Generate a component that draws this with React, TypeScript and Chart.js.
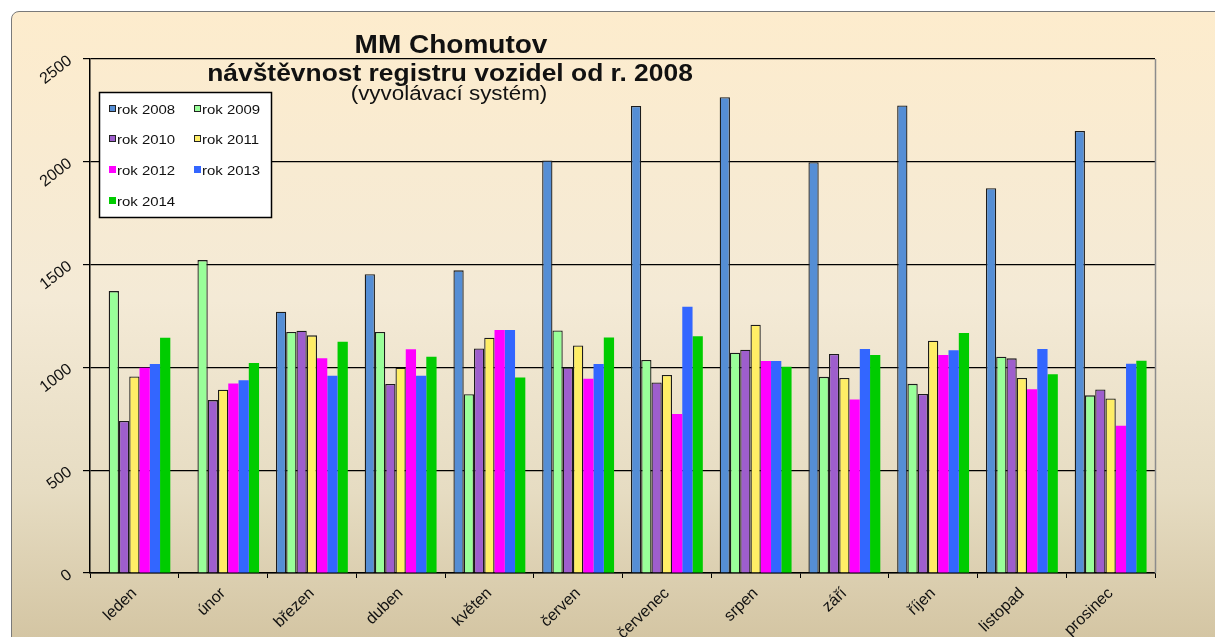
import React, { useEffect, useRef } from "react";
import { Chart, registerables } from "chart.js";

Chart.register(...registerables);

const months = ["leden", "únor", "březen", "duben", "květen", "červen", "červenec", "srpen", "září", "říjen", "listopad", "prosinec"];
const seriesNames = ["rok 2008", "rok 2009", "rok 2010", "rok 2011", "rok 2012", "rok 2013", "rok 2014"];
const rok2008 = [null, null, 1271, 1453, 1472, 2006, 2272, 2314, 1998, 2274, 1871, 2150];
const rok2009 = [1371, 1522, 1172, 1172, 870, 1180, 1036, 1071, 954, 920, 1052, 864];
const rok2010 = [739, 841, 1178, 919, 1092, 1000, 927, 1086, 1065, 871, 1044, 893];
const rok2011 = [956, 891, 1156, 998, 1144, 1107, 963, 1208, 949, 1130, 949, 849];
const rok2012 = [998, 922, 1045, 1088, 1182, 945, 773, 1031, 844, 1060, 894, 716];
const rok2013 = [1016, 937, 959, 959, 1182, 1016, 1295, 1031, 1089, 1083, 1089, 1018];
const rok2014 = [1144, 1022, 1125, 1052, 951, 1146, 1152, 1003, 1060, 1167, 967, 1032];
const seriesValues = [rok2008, rok2009, rok2010, rok2011, rok2012, rok2013, rok2014];
const yMin = 0;
const yMax = 2500;
const yStep = 500;
const titleLine1 = "MM Chomutov";
const titleLine2 = "návštěvnost registru vozidel od r. 2008";
const subtitle = "(vyvolávací systém)";

const fillColors = ["#558ed5", "#99ff99", "#9e5ecd", "#ffee66", "#ff00ff", "#3366ff", "#00cc00"];
const borderColors = ["#1c1c1c", "#1c1c1c", "#1c1c1c", "#1c1c1c", "#ff00ff", "#3366ff", "#00cc00"];
const borderWidths = [1.3, 1.3, 1.3, 1.3, 0, 0, 0];

const FONT = '"Liberation Sans", Arial, sans-serif';

function drawStretched(ctx: CanvasRenderingContext2D, text: string, x: number, y: number, font: string, align: CanvasTextAlign, sx: number) {
  ctx.save();
  ctx.font = font;
  ctx.textAlign = align;
  ctx.textBaseline = "alphabetic";
  ctx.fillStyle = "#111";
  ctx.translate(x, y);
  ctx.scale(sx, 1);
  ctx.fillText(text, 0, 0);
  ctx.restore();
}

const decorPlugin = {
  id: "decor",
  afterDraw(chart: any) {
    const ctx: CanvasRenderingContext2D = chart.ctx;
    const a = chart.chartArea;
    // right border of plot area
    ctx.save();
    ctx.strokeStyle = "#8c8c8c";
    ctx.lineWidth = 1.5;
    ctx.beginPath();
    ctx.moveTo(a.right + 0.5, a.top);
    ctx.lineTo(a.right + 0.5, a.bottom);
    ctx.stroke();
    ctx.restore();

    // titles
    drawStretched(ctx, titleLine1, 451, 53, `bold 25px ${FONT}`, "center", 1.12);
    drawStretched(ctx, titleLine2, 450, 81, `bold 24px ${FONT}`, "center", 1.1);
    drawStretched(ctx, subtitle, 449, 100, `20px ${FONT}`, "center", 1.12);

    // legend
    const lx = 99, ly = 92, lw = 172, lh = 125;
    ctx.save();
    ctx.fillStyle = "#ffffff";
    ctx.fillRect(lx, ly, lw, lh);
    ctx.strokeStyle = "#000";
    ctx.lineWidth = 1.5;
    ctx.strokeRect(lx + 0.5, ly + 0.5, lw, lh);
    ctx.restore();
    const rowsY = [109, 139, 170, 201];
    const colSw = [109, 194];
    chart.data.datasets.forEach((ds: any, i: number) => {
      const row = Math.floor(i / 2);
      const col = i % 2;
      const cy = rowsY[row];
      const sx = colSw[col];
      ctx.save();
      ctx.fillStyle = fillColors[i];
      ctx.fillRect(sx, cy - 4, 7, 7);
      if (borderWidths[i] > 0) {
        ctx.strokeStyle = "#222";
        ctx.lineWidth = 1;
        ctx.strokeRect(sx + 0.5, cy - 3.5, 6, 6);
      }
      ctx.restore();
      drawStretched(ctx, ds.label, sx + 8, cy + 4.5, `13px ${FONT}`, "left", 1.15);
    });
  },
};

export default function App() {
  const canvasRef = useRef<HTMLCanvasElement | null>(null);

  useEffect(() => {
    document.body.style.margin = "0";
    const canvas = canvasRef.current;
    if (!canvas) return;
    const chart = new Chart(canvas, {
      type: "bar",
      data: {
        labels: months,
        datasets: seriesValues.map((vals, i) => ({
          label: seriesNames[i],
          data: vals,
          backgroundColor: fillColors[i],
          borderColor: borderColors[i],
          borderWidth: borderWidths[i],
          borderSkipped: "bottom",
          categoryPercentage: 0.81,
          barPercentage: 1.0,
        })),
      },
      options: {
        animation: false,
        responsive: false,
        devicePixelRatio: 1,
        layout: { padding: { top: 59, right: 60, left: 0, bottom: 0 } },
        plugins: {
          legend: { display: false },
          title: { display: false },
          tooltip: { enabled: false },
        },
        scales: {
          x: {
            grid: {
              display: true,
              drawOnChartArea: false,
              drawTicks: true,
              tickLength: 5,
              color: "#000",
              offset: true,
            },
            border: { display: true, color: "#000", width: 1.5 },
            ticks: {
              minRotation: 44,
              maxRotation: 44,
              autoSkip: false,
              color: "#111",
              padding: 6,
              font: { family: FONT, size: 16 },
            },
            afterFit: (scale: any) => {
              scale.height = 64;
            },
          },
          y: {
            min: yMin,
            max: yMax,
            ticks: {
              stepSize: yStep,
              minRotation: 38,
              maxRotation: 38,
              color: "#111",
              padding: 13,
              font: { family: FONT, size: 16 },
              callback: (v: any) => String(v),
            },
            grid: {
              color: "#000",
              lineWidth: 1.2,
              tickLength: 7,
            },
            border: { display: true, color: "#000", width: 1.5 },
            afterFit: (scale: any) => {
              scale.width = 90;
            },
          },
        },
      },
      plugins: [decorPlugin],
    });
    return () => chart.destroy();
  }, []);

  return (
    <div style={{ position: "relative", width: 1215, height: 637, background: "#ffffff", overflow: "hidden" }}>
      <div
        style={{
          position: "absolute",
          left: 11,
          top: 11,
          width: 1215,
          height: 640,
          border: "1px solid #7a7a7a",
          borderTopLeftRadius: 8,
          background: "linear-gradient(to bottom, #fdeccd 0%, #f4ead6 45%, #e6dcc2 75%, #d2c3a0 100%)",
        }}
      />
      <canvas ref={canvasRef} width={1215} height={637} style={{ position: "absolute", left: 0, top: 0 }} />
    </div>
  );
}
